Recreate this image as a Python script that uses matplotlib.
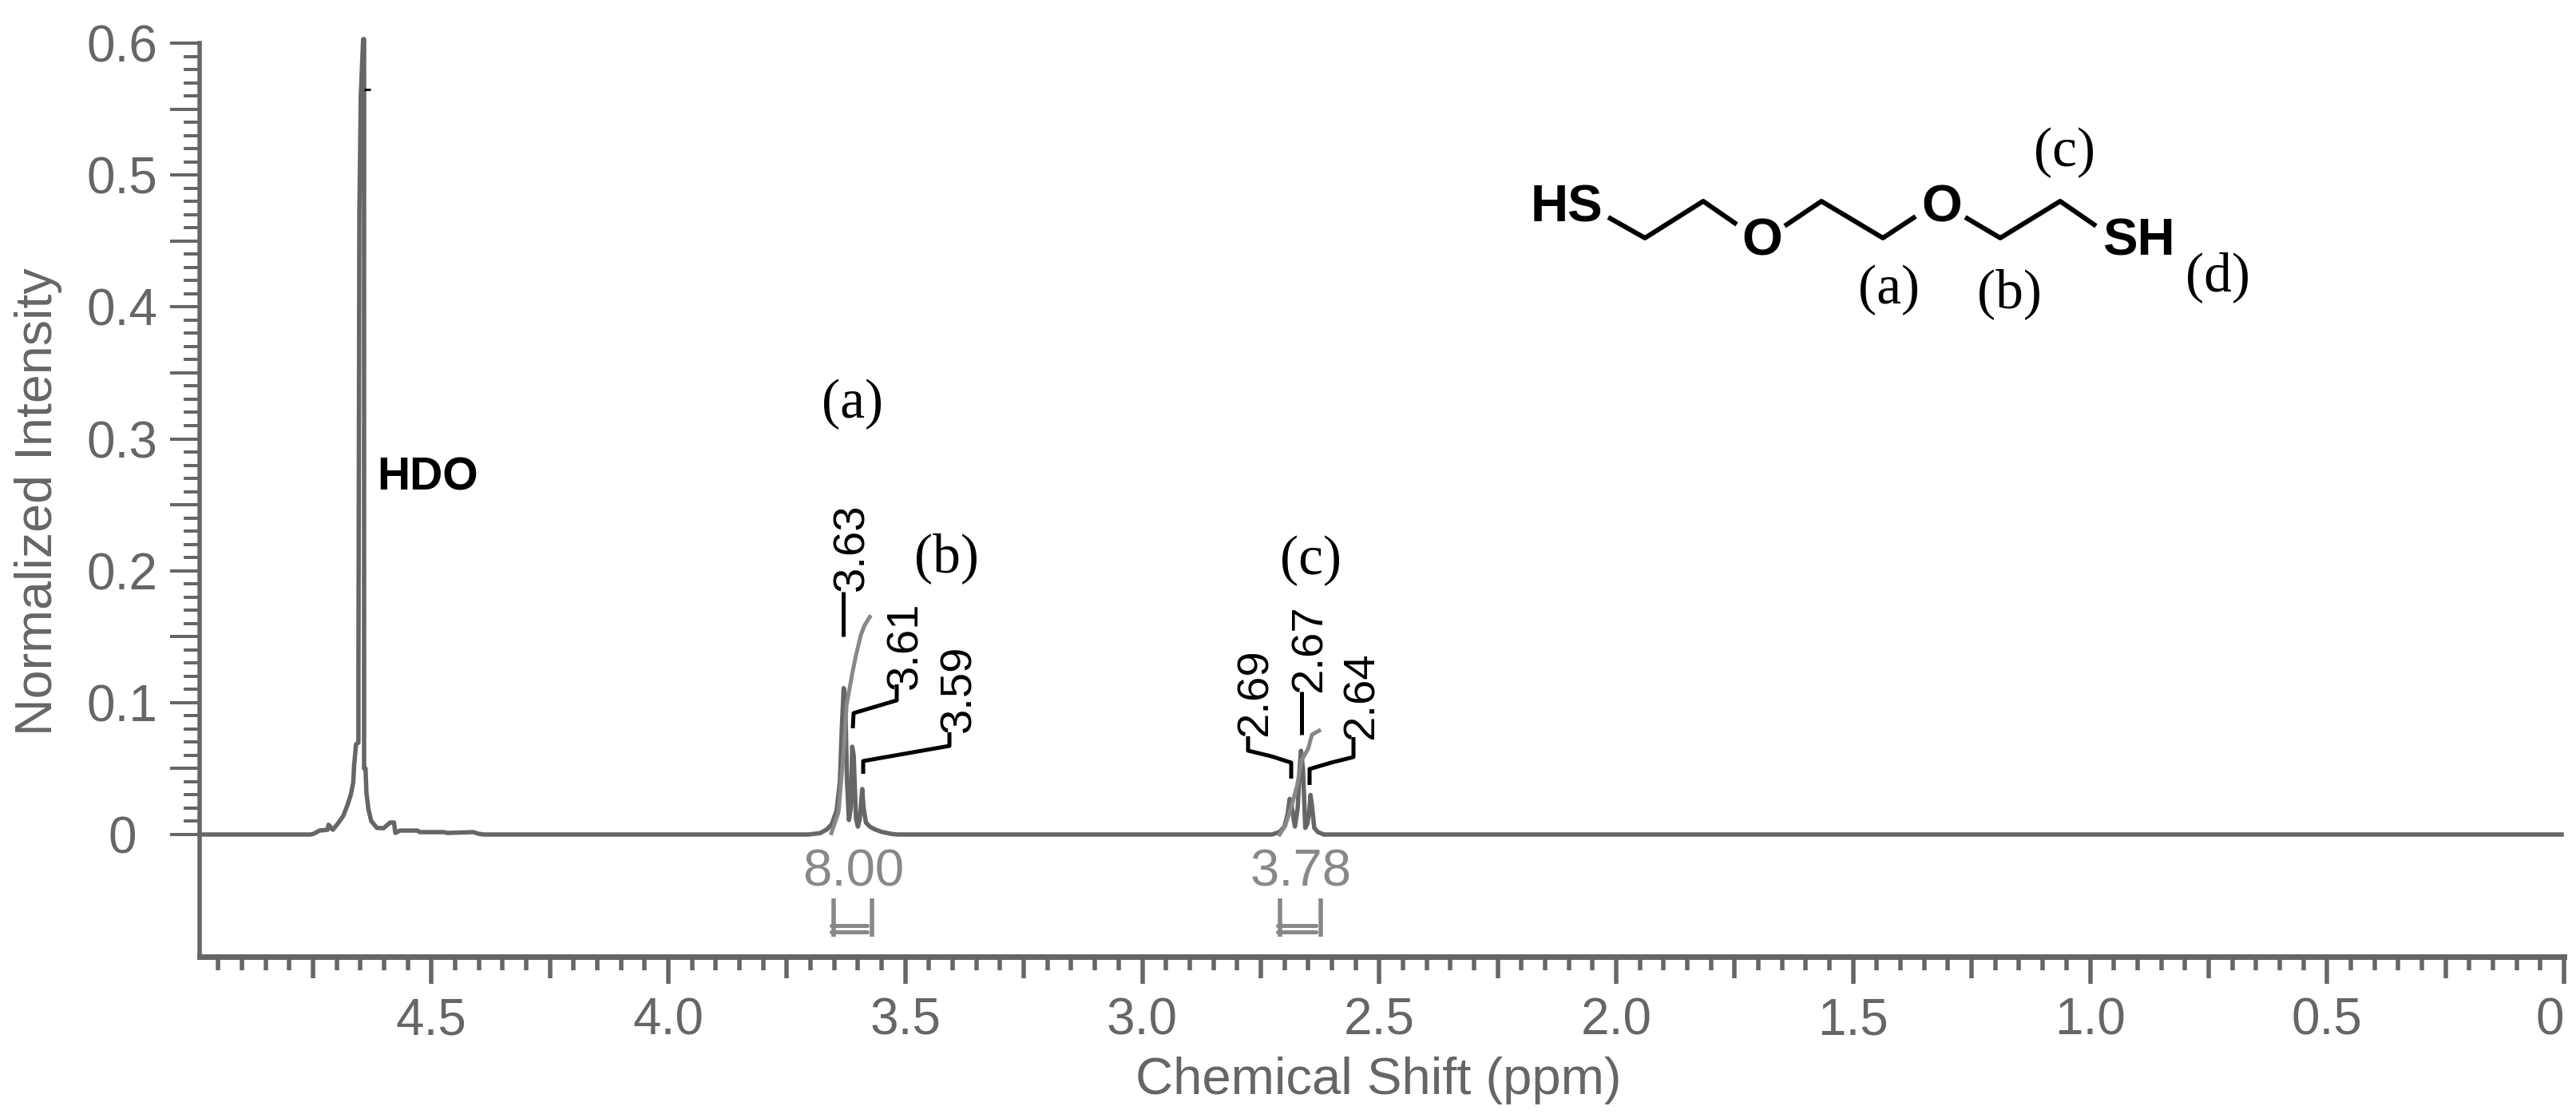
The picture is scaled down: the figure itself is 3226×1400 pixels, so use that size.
import numpy as np
import matplotlib
matplotlib.use("Agg")
import matplotlib.pyplot as plt
from matplotlib.lines import Line2D
from matplotlib.transforms import Affine2D

W, H = 3226, 1400
PX = 0.72  # points per pixel at dpi 100
plt.rcParams['font.family'] = ['Liberation Sans', 'DejaVu Sans']

# ---- data ----
hdo_ppm = [4.755, 4.748, 4.736, 4.719, 4.717, 4.708, 4.698, 4.686, 4.677, 4.670, 4.665, 4.663, 4.659, 4.654,
           4.654, 4.652, 4.649, 4.644, 4.642, 4.642, 4.639, 4.637, 4.633, 4.627, 4.615, 4.601, 4.587, 4.579,
           4.576, 4.566, 4.530, 4.524, 4.473, 4.467, 4.411, 4.401, 4.39]
hdo_int = [0.0, 0.0006, 0.003, 0.0036, 0.0074, 0.0036, 0.008, 0.0141, 0.0224, 0.0303, 0.0393, 0.0527, 0.0684, 0.0696,
           0.114, 0.47, 0.56, 0.603, 0.603, 0.05, 0.05, 0.0315, 0.0194, 0.0103, 0.005, 0.0048, 0.0091, 0.0091,
           0.0012, 0.003, 0.003, 0.0018, 0.0018, 0.0012, 0.0018, 0.0006, 0.0]

mult_a_ppm = [3.705, 3.68, 3.665, 3.655, 3.645, 3.638, 3.634, 3.630, 3.627, 3.623, 3.619, 3.615, 3.612, 3.609, 3.604, 3.600, 3.596, 3.591, 3.588, 3.583, 3.575, 3.565, 3.55, 3.53, 3.517]
mult_a_int = [0, 0.001, 0.004, 0.008, 0.018, 0.04, 0.08, 0.111, 0.105, 0.04, 0.011, 0.02, 0.0666, 0.06, 0.012, 0.006, 0.012, 0.0345, 0.02, 0.009, 0.006, 0.004, 0.002, 0.0005, 0]

mult_c_ppm = [2.726, 2.71, 2.70, 2.693, 2.689, 2.685, 2.678, 2.672, 2.668, 2.665, 2.661, 2.656, 2.652, 2.648, 2.645, 2.642, 2.637, 2.63, 2.617]
mult_c_int = [0, 0.002, 0.006, 0.016, 0.027, 0.022, 0.006, 0.02, 0.05, 0.0635, 0.05, 0.005, 0.008, 0.016, 0.030, 0.022, 0.005, 0.002, 0]

integral_a_ppm = [3.656, 3.641, 3.636, 3.629, 3.624, 3.612, 3.604, 3.594, 3.586, 3.575]
integral_a_val = [0.001, 0.017, 0.0375, 0.068, 0.098, 0.122, 0.136, 0.151, 0.1586, 0.165]
integral_c_ppm = [2.710, 2.698, 2.684, 2.673, 2.664, 2.650, 2.642, 2.627]
integral_c_val = [0.0, 0.007, 0.023, 0.0375, 0.056, 0.065, 0.0757, 0.0787]

integral_ranges = [(3.652, 3.571), (2.710, 2.623)]
integral_labels = ["8.00", "3.78"]

x_labelled = [4.5, 4.0, 3.5, 3.0, 2.5, 2.0, 1.5, 1.0, 0.5, 0.0]
x_labels = ["4.5", "4.0", "3.5", "3.0", "2.5", "2.0", "1.5", "1.0", "0.5", "0"]
y_labelled = [0.0, 0.1, 0.2, 0.3, 0.4, 0.5, 0.6]
y_labels = ["0", "0.1", "0.2", "0.3", "0.4", "0.5", "0.6"]

ppm = [4.989] + hdo_ppm + mult_a_ppm + mult_c_ppm + [0.005]
intensity = [0.0] + hdo_int + mult_a_int + mult_c_int + [0.0]

# ---- figure / axes ----
GRAY = '#666666'
LIGHT = '#888888'
fig = plt.figure(figsize=(W / 100, H / 100), dpi=100, facecolor='white')
L, R, T, B = 250, 3211, 54, 1198
ax = fig.add_axes([L / W, (H - B) / H, (R - L) / W, (B - T) / H])
ppm_scale = 593.5
y_scale = 991 / 0.6
ax.set_xlim((R - L) / ppm_scale, 0)
ax.set_ylim(-(B - 1045) / y_scale, 0.6)
for s in ('top', 'right'):
    ax.spines[s].set_visible(False)
for s, w in (('left', 5.5), ('bottom', 7)):
    ax.spines[s].set_color(GRAY)
    ax.spines[s].set_linewidth(w * PX)

ax.plot(ppm, intensity, color=GRAY, lw=5.5 * PX, clip_on=False, solid_joinstyle='round', zorder=3)
ax.plot(integral_a_ppm, integral_a_val, color=LIGHT, lw=5 * PX, clip_on=False, zorder=4)
ax.plot(integral_c_ppm, integral_c_val, color=LIGHT, lw=5 * PX, clip_on=False, zorder=4)

# x ticks: every 0.05, longer at 0.25, longest at 0.5
n_x = 99
x_ticks = [i * 0.05 for i in range(n_x + 1)]
ax.set_xticks(x_ticks)
lab = {round(v, 2): t for v, t in zip(x_labelled, x_labels)}
ax.set_xticklabels([lab.get(round(v, 2), '') for v in x_ticks])
ax.tick_params(axis='x', direction='out', length=34 * PX, width=5.5 * PX, color=GRAY,
               labelcolor=GRAY, labelsize=46, pad=16 * PX)
for i, t in enumerate(ax.xaxis.get_major_ticks()):
    if i % 10 == 0:
        size = 34
    elif i % 5 == 0:
        size = 27
    else:
        size = 17
    t.tick1line.set_markersize(size * PX)
    if i == 0:
        t.label1.set_ha('right')

# y ticks: every 0.01, longer at 0.05
y_ticks = [i * 0.01 for i in range(61)]
ax.set_yticks(y_ticks)
ylab = {round(v, 2): t for v, t in zip(y_labelled, y_labels)}
ax.set_yticklabels([ylab.get(round(v, 2), '') for v in y_ticks])
ax.tick_params(axis='y', direction='out', length=37 * PX, width=4 * PX, color=GRAY,
               labelcolor=GRAY, labelsize=46, pad=60 * PX)
for i, t in enumerate(ax.yaxis.get_major_ticks()):
    t.tick1line.set_markersize((37 if i % 5 == 0 else 20) * PX)
    t.label1.set_ha('center')

pix = Affine2D().scale(1 / W, -1 / H).translate(0, 1) + fig.transFigure


def label(x, y, s, rotation=0, **kw):
    # a centred text box includes the descent: correct so the glyphs are centred
    if rotation:
        x += 3
    else:
        y += 5
    fig.text(x, y, s, transform=pix, ha='center', va='center', rotation=rotation, **kw)


def poly(xs, ys, color='black', lw=5, cap='butt'):
    fig.add_artist(Line2D(xs, ys, color=color, lw=lw * PX, transform=pix,
                          solid_joinstyle='round', solid_capstyle=cap))


# integral brackets under peaks
for (a, b), txt in zip(integral_ranges, integral_labels):
    xa = R - a * ppm_scale
    xb = R - b * ppm_scale
    for xv in (xa, xb):
        poly([xv, xv], [1125, 1173], color=LIGHT, lw=5.5)
    for yv in (1158.5, 1166.5):
        poly([xa - 3, xb - 6], [yv, yv], color=LIGHT, lw=5, cap='round')
    label((xa + xb) / 2 + 1, 1087, txt, color=LIGHT, fontsize=47)

# axis titles
label(1726, 1348, "Chemical Shift (ppm)", color=GRAY, fontsize=47)
label(45, 628, "Normalized Intensity", color=GRAY, fontsize=46.5, rotation=90)
label(536, 594, "HDO", color='black', fontsize=41, fontweight='bold')
poly([456, 464], [112, 112], lw=3)

# peak picks
peak_labels = ["3.63", "3.61", "3.59", "2.69", "2.67", "2.64"]
peak_label_xy = [(1064, 685), (1131, 808), (1198, 862), (1570, 867), (1638, 812), (1703, 871)]
leaders = [
    ([1056, 1056], [741, 797]),
    ([1123, 1123, 1069, 1068], [857, 877, 893, 912]),
    ([1189, 1189, 1081, 1081], [917, 934, 953, 969]),
    ([1563, 1563, 1592, 1617, 1617], [922, 940, 947, 955, 975]),
    ([1630, 1630], [866, 920]),
    ([1695, 1695, 1667, 1640, 1640], [923, 948, 955, 963, 983]),
]
for s, (x, y), (lx, ly) in zip(peak_labels, peak_label_xy, leaders):
    label(x, y, s, color='black', fontsize=40.5, rotation=90)
    poly(lx, ly)

# assignment letters
serif = ['Liberation Serif', 'DejaVu Serif']
for x, y, s in [(1067, 501, "(a)"), (1185, 694, "(b)"), (1641, 697, "(c)"),
                (2365, 358, "(a)"), (2516, 363, "(b)"), (2586, 186, "(c)"), (2777, 342, "(d)")]:
    label(x, y, s, color='black', fontsize=50, family=serif)

# molecule
poly([2014, 2060, 2133, 2175], [272, 298, 252, 281], lw=6)
poly([2235, 2281, 2358, 2399], [283, 252, 298, 271], lw=6)
poly([2461, 2505, 2580, 2625], [272, 298, 252, 283], lw=6)
for x, y, s in [(1962, 256, "HS"), (2207, 298, "O"), (2432, 256, "O"), (2678, 298, "SH")]:
    label(x, y, s, color='black', fontsize=47, fontweight='bold')

fig.savefig("out.png", dpi=100, facecolor='white')
